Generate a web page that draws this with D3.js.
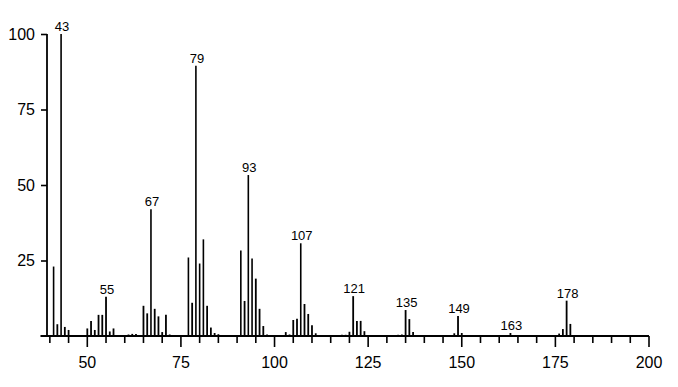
<!DOCTYPE html>
<html>
<head>
<meta charset="utf-8">
<script src="https://cdn.jsdelivr.net/npm/d3@7"></script>
<style>
  body { margin: 0; background: #fff; }
  svg { display: block; font-family: "Liberation Sans", Arial, Helvetica, sans-serif; }
</style>
</head>
<body>
<svg width="678" height="387"></svg>
<script>
// m/z values and relative intensities
var mz = [41, 42, 43, 44, 45, 50, 51, 52, 53, 54, 55, 56, 57, 61, 62, 63,
          65, 66, 67, 68, 69, 70, 71, 72, 76, 77, 78, 79, 80, 81, 82, 83, 84, 85,
          89, 91, 92, 93, 94, 95, 96, 97, 98, 103, 104, 105, 106, 107, 108, 109, 110, 111,
          117, 118, 119, 120, 121, 122, 123, 124, 132, 133, 134, 135, 136, 137,
          148, 149, 150, 163, 176, 177, 178, 179];
var intensity = [23, 3.9, 100, 3, 2, 2.5, 5, 2, 7, 7, 13, 1.5, 2.5, 0.5, 0.7, 0.7,
          10, 7.5, 42, 9, 6.5, 1.3, 7, 0.5, 0.3, 26, 11, 89.5, 24, 32, 10, 2.8, 1, 0.6,
          0.3, 28.3, 11.6, 53.3, 25.7, 19, 9, 3.3, 0.5, 1.3, 0.5, 5.3, 5.7, 30.7, 10.6, 7.3, 3.6, 0.9,
          0.3, 0.4, 0.4, 1.4, 13.2, 5, 5, 1.6, 0.3, 0.4, 0.5, 8.6, 5.6, 1.3,
          0.9, 6.6, 1, 1, 0.8, 2.3, 11.7, 4];
var labelled = [43, 55, 67, 79, 93, 107, 121, 135, 149, 163, 178];
var yTicks = [25, 50, 75, 100];
var xTicks = d3.range(40, 201, 5);
var xLabels = [50, 75, 100, 125, 150, 175, 200];

var peaks = mz.map((m, i) => ({mz: m, v: intensity[i]}));

var svg = d3.select('svg');

// scales
var x = d3.scaleLinear().domain([50, 200]).range([87.3, 649]);
var x0 = x(37.5);
var y = d3.scaleLinear().domain([0, 100]).range([336, 34]);

// x axis: baseline plus short ticks every 5, longer ticks at the labels
var xg = svg.append('g').attr('transform', 'translate(0,' + y(0) + ')');
xg.append('line')
    .attr('x1', x0).attr('x2', x(200))
    .attr('stroke', '#000').attr('stroke-width', 1.8);
xg.selectAll('line.tick')
    .data(xTicks)
    .enter()
    .append('line')
    .attr('class', 'tick')
    .attr('x1', d => x(d)).attr('x2', d => x(d))
    .attr('y1', 0)
    .attr('y2', d => xLabels.includes(d) ? 11 : 7)
    .attr('stroke', '#000').attr('stroke-width', 1.6);
xg.selectAll('text')
    .data(xLabels)
    .enter()
    .append('text')
    .attr('x', d => x(d))
    .attr('y', 31.5)
    .attr('text-anchor', 'middle')
    .style('font-size', '16px')
    .text(d => d);

// y axis
var yAxis = d3.axisLeft(y)
    .tickValues(yTicks)
    .tickSize(6)
    .tickSizeOuter(0)
    .tickPadding(6);
var yg = svg.append('g')
    .attr('transform', 'translate(47,0)')
    .call(yAxis);
yg.select('.domain').attr('stroke-width', 1.8).attr('d', 'M0,' + y(0) + 'V' + y(100));
yg.selectAll('.tick line').attr('stroke-width', 1.6);
yg.selectAll('.tick text')
    .style('font-size', '16px')
    .style('font-family', '"Liberation Sans", Arial, sans-serif')
    .attr('fill', '#000');

// peaks
svg.append('g')
    .selectAll('line')
    .data(peaks)
    .enter()
    .append('line')
    .attr('x1', d => x(d.mz)).attr('x2', d => x(d.mz))
    .attr('y1', y(0))
    .attr('y2', d => y(d.v))
    .attr('stroke', '#000')
    .attr('stroke-width', d => d.v > 20 ? 1.6 : 1.8);

// peak labels
svg.append('g')
    .selectAll('text')
    .data(peaks.filter(d => labelled.includes(d.mz)))
    .enter()
    .append('text')
    .attr('x', d => x(d.mz) + 1)
    .attr('y', d => y(d.v) - 3)
    .attr('text-anchor', 'middle')
    .style('font-size', '13px')
    .text(d => d.mz);
</script>
</body>
</html>
